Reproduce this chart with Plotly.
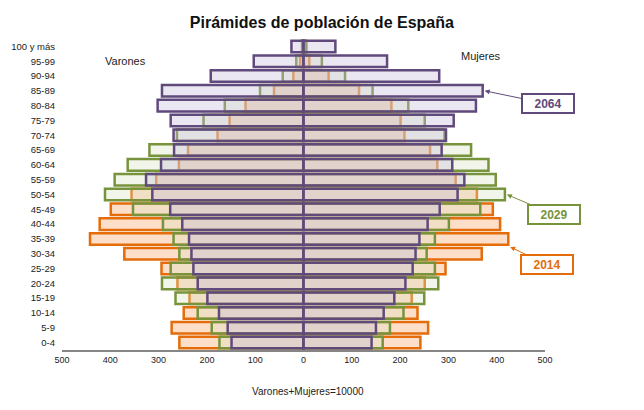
import plotly.graph_objects as go

# grupos de edad, de abajo hacia arriba
edades = ["0-4", "5-9", "10-14", "15-19", "20-24", "25-29", "30-34", "35-39",
          "40-44", "45-49", "50-54", "55-59", "60-64", "65-69", "70-74",
          "75-79", "80-84", "85-89", "90-94", "95-99", "100 y más"]

# Varones+Mujeres = 10000
varones_2014 = [257, 273, 248, 236, 261, 294, 371, 442, 422, 399, 356,
                305, 258, 239, 178, 153, 120, 61, 21, 7, 1.5]
varones_2029 = [174, 190, 219, 265, 293, 275, 257, 269, 291, 353, 411,
                391, 364, 319, 262, 207, 163, 90, 43, 15, 3]
varones_2064 = [149, 157, 175, 199, 219, 228, 232, 237, 251, 276, 313,
                326, 295, 268, 269, 275, 302, 293, 192, 103, 25]

mujeres_2014 = [242, 258, 236, 224, 251, 294, 369, 424, 407, 392, 359,
                315, 277, 262, 209, 201, 182, 115, 52, 12, 2]
mujeres_2029 = [164, 179, 207, 250, 279, 272, 255, 272, 301, 366, 417,
                398, 383, 347, 292, 251, 217, 143, 86, 38, 6]
mujeres_2064 = [141, 150, 166, 188, 211, 226, 232, 240, 257, 282, 319,
                333, 308, 286, 295, 311, 357, 371, 281, 173, 66]

ticks_x = [-500, -400, -300, -200, -100, 0, 100, 200, 300, 400, 500]

FONT = "Arial, Liberation Sans, sans-serif"
NARANJA = "rgb(228,108,10)"
VERDE = "rgb(119,147,60)"
MORADO = "rgb(96,74,123)"

series = [
    ("2014", varones_2014, mujeres_2014, "rgb(253,222,201)", NARANJA),
    ("2029", varones_2029, mujeres_2029, "rgba(214,227,189,0.32)", VERDE),
    ("2064", varones_2064, mujeres_2064, "rgba(198,186,218,0.35)", MORADO),
]

fig = go.Figure()
for anio, hombres, mujeres, relleno, borde in series:
    fig.add_trace(go.Bar(y=edades, x=[-v for v in hombres], orientation="h",
                         name=anio + " varones", marker=dict(color=relleno, line=dict(color=borde, width=2.5))))
    fig.add_trace(go.Bar(y=edades, x=mujeres, orientation="h",
                         name=anio + " mujeres", marker=dict(color=relleno, line=dict(color=borde, width=2.5))))

fig.update_layout(
    width=644, height=410,
    margin=dict(l=54, r=107, t=31, b=68),
    barmode="overlay", bargap=0.22,
    showlegend=False,
    paper_bgcolor="white", plot_bgcolor="white",
    font=dict(family=FONT, color="#222222"),
    title=dict(text="<b>Pirámides de población de España</b>", xref="paper", x=0.538, xanchor="center",
               y=0.966, yanchor="middle", font=dict(size=16, color="#111111")),
)
fig.update_xaxes(range=[-500, 500], tickvals=ticks_x, ticktext=[str(abs(v)) for v in ticks_x],
                 automargin=False, showgrid=False, zeroline=False, showline=True,
                 linecolor="rgb(134,134,134)", linewidth=1.5, ticks="",
                 tickfont=dict(size=9, color="#222222"))
fig.update_yaxes(range=[-0.5, 20.5], automargin=False, showgrid=False, zeroline=False,
                 showline=False, ticks="", ticklabelstandoff=6,
                 tickfont=dict(size=9.5, color="#222222"))

# textos
fig.add_annotation(text="Varones", xref="paper", yref="paper", x=0.1325, y=0.929,
                   xanchor="center", yanchor="middle",
                   showarrow=False, font=dict(size=11, color="#222222"))
fig.add_annotation(text="Mujeres", xref="paper", yref="paper", x=0.8675, y=0.945,
                   xanchor="center", yanchor="middle",
                   showarrow=False, font=dict(size=11, color="#222222"))
fig.add_annotation(text="Varones+Mujeres=10000", xref="paper", yref="paper", x=0.509, y=-0.135,
                   xanchor="center", yanchor="middle",
                   showarrow=False, font=dict(size=10, color="#222222"))

# etiquetas de año con flecha
etiquetas = [
    ("2064", mujeres_2064, "85-89", MORADO, 63, 13, 0),
    ("2029", mujeres_2029, "50-54", VERDE, 47, 20, 0),
    ("2014", mujeres_2014, "35-39", NARANJA, 37, 18, -8),
]
for anio, valores, grupo, color, ax, ay, ys in etiquetas:
    fig.add_annotation(
        x=valores[edades.index(grupo)] + 4, y=grupo, xref="x", yref="y", yshift=ys,
        text="<b>" + anio + "</b>", font=dict(size=12, color=color),
        showarrow=True, arrowhead=2, arrowsize=1, arrowwidth=1, arrowcolor=color,
        ax=ax, ay=ay, bgcolor="white", bordercolor=color, borderwidth=2,
        borderpad=1, width=48, height=15,
    )

fig.write_html("out.html")
